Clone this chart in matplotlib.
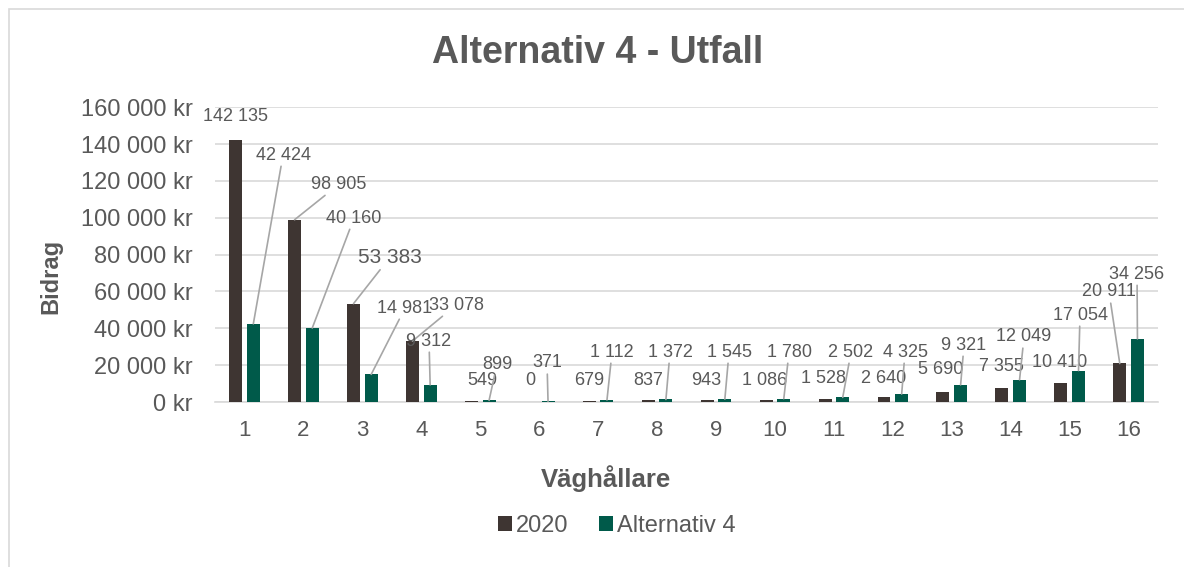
import matplotlib
matplotlib.use("Agg")
import matplotlib.pyplot as plt
from matplotlib.patches import Rectangle
from matplotlib.ticker import FuncFormatter
import numpy as np

plt.rcParams['font.family'] = ['Liberation Sans', 'DejaVu Sans']

categories = list(range(1, 17))
series_2020 = [142135, 98905, 53383, 33078, 549, 0, 679, 837, 943, 1086,
               1528, 2640, 5690, 7355, 10410, 20911]
series_alt4 = [42424, 40160, 14981, 9312, 899, 371, 1112, 1372, 1545, 1780,
               2502, 4325, 9321, 12049, 17054, 34256]

# label placements (data units), as Excel moved them by hand
pos_2020 = [(0.856, 155100), (2.604, 118200), (3.469, 78600), (4.589, 52600),
            (5.030, 11900), (5.844, 11400), (6.845, 11900), (7.847, 11900),
            (8.831, 11900), (9.832, 11900), (10.816, 13000), (11.850, 13000),
            (12.818, 17400), (13.836, 19000), (14.837, 21700), (15.668, 59700)]
pos_alt4 = [(1.654, 134000), (2.858, 99800), (3.724, 51000), (4.131, 33100),
            (5.285, 20600), (6.133, 21200), (7.236, 27100), (8.220, 27100),
            (9.221, 27100), (10.239, 27100), (11.291, 27100), (12.207, 27100),
            (13.208, 30900), (14.226, 35300), (15.176, 47200), (16.143, 69400)]

c_2020 = '#3E3532'
c_alt4 = '#005A4A'
txt = '#595959'


def sv(v):
    return f'{int(v):,}'.replace(',', ' ')


fig = plt.figure(figsize=(11.84, 5.67), dpi=100)
fig.patches.append(Rectangle((0.008, -0.05), 1.2, 1.034, transform=fig.transFigure,
                             fill=False, ec='#D9D9D9', lw=1.2))
ax = fig.add_axes([0.1816, 0.291, 0.7965, 0.520])

x = np.array(categories)
w = 0.22
off = 0.15
ax.bar(x - off, series_2020, w, color=c_2020, label='2020', zorder=3)
ax.bar(x + off, series_alt4, w, color=c_alt4, label='Alternativ 4', zorder=3)

ax.set_xlim(0.5, 16.5)
ax.set_ylim(0, 160000)
ax.set_yticks(np.arange(0, 160001, 20000))
ax.yaxis.set_major_formatter(FuncFormatter(lambda v, p: sv(v) + ' kr'))
ax.set_xticks(x)
ax.tick_params(axis='both', length=0, colors=txt)
ax.tick_params(axis='x', pad=13, labelsize=16)
ax.tick_params(axis='y', pad=16, labelsize=17)
ax.grid(axis='y', color='#D9D9D9', lw=1.2, zorder=0)
for s in ['top', 'right', 'left']:
    ax.spines[s].set_visible(False)
ax.spines['bottom'].set_color('#D9D9D9')
ax.spines['bottom'].set_linewidth(1.2)

fig.canvas.draw()
for vals, pos, sign in [(series_2020, pos_2020, -1), (series_alt4, pos_alt4, 1)]:
    for i, v in enumerate(vals):
        bx = categories[i] + sign * off
        lx, ly = pos[i]
        p0 = ax.transData.transform((bx, v))
        p1 = ax.transData.transform((lx, ly))
        far = np.hypot(*(p1 - p0)) > 27
        ax.annotate(sv(v), xy=(bx, v), xytext=(lx, ly), ha='center', va='center',
                    fontsize=15 if v == 53383 else 13, color=txt, annotation_clip=False,
                    bbox=dict(boxstyle='square,pad=0.15', fc='none', ec='none'),
                    arrowprops=dict(arrowstyle='-', color='#A6A6A6', lw=1.2,
                                    shrinkA=0, shrinkB=0) if far else None)

fig.text(0.505, 0.906, 'Alternativ 4 - Utfall', ha='center', va='center',
         fontsize=27, fontweight='bold', color=txt)
fig.text(0.043, 0.513, 'Bidrag', rotation=90, ha='center', va='center',
         fontsize=17, fontweight='bold', color=txt)
fig.text(0.512, 0.156, 'Väghållare', ha='center', va='center',
         fontsize=18.5, fontweight='bold', color=txt)

leg = fig.legend(loc='center', bbox_to_anchor=(0.521, 0.073), ncol=2, frameon=False,
                 fontsize=17, handlelength=0.6, handleheight=0.6, handletextpad=0.15,
                 columnspacing=1.3)
for t in leg.get_texts():
    t.set_color(txt)

fig.savefig('out.png', dpi=100)
